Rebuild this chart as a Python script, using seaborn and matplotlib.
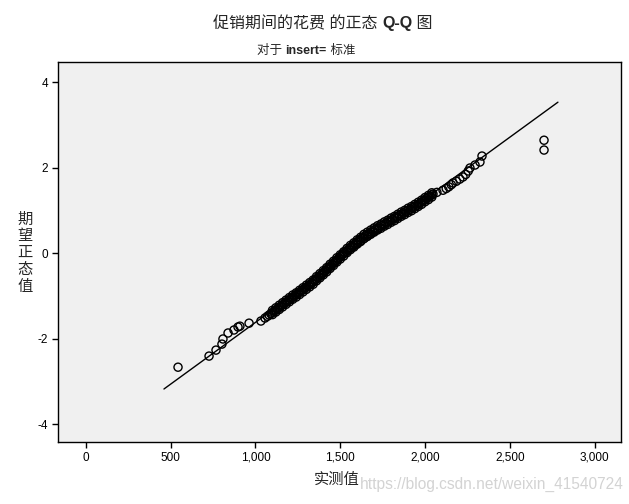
import numpy as np
import pandas as pd
import matplotlib
matplotlib.use("Agg")
import matplotlib.pyplot as plt
import seaborn as sns

observed = [
    543, 726, 767, 802, 808, 838, 873, 897, 908, 962, 1032,
    1056, 1070, 1080, 1090, 1100, 1111, 1121, 1131, 1141, 1150, 1160, 1170, 1180,
    1190, 1200, 1210, 1221, 1231, 1242, 1252, 1262,
    1272, 1282, 1292, 1303, 1313, 1323, 1333,
    1341, 1350, 1358, 1366, 1375, 1383, 1392, 1398,
    1406, 1414, 1422, 1430, 1438, 1446, 1454, 1462, 1470, 1478, 1486,
    1494, 1502, 1510, 1518, 1526, 1535, 1543, 1551, 1560,
    1569, 1578, 1588, 1597, 1606, 1615, 1625, 1634,
    1646, 1658, 1670, 1682, 1693, 1705, 1717,
    1730, 1743, 1757, 1770, 1783, 1796, 1809, 1822, 1835, 1848,
    1861, 1874, 1887, 1900, 1914, 1927, 1940, 1953,
    1964, 1975, 1986, 1997, 2007, 2018, 2029, 2040, 2047,
    2070, 2106, 2125, 2140, 2155, 2165, 2185, 2205, 2224, 2240, 2255, 2265,
    2295, 2324, 2336,
    2702, 2702,
]
expected = [
    -2.67, -2.41, -2.27, -2.13, -2.01, -1.87, -1.80, -1.73, -1.71, -1.64, -1.59,
    -1.52, -1.48, -1.45, -1.42, -1.39, -1.36, -1.33, -1.30, -1.27, -1.24, -1.21, -1.18, -1.15,
    -1.12, -1.09, -1.06, -1.03, -1.00, -0.97, -0.94, -0.91,
    -0.88, -0.85, -0.82, -0.79, -0.76, -0.73, -0.70,
    -0.67, -0.64, -0.61, -0.58, -0.55, -0.52, -0.49, -0.47,
    -0.44, -0.41, -0.38, -0.35, -0.32, -0.29, -0.26, -0.23, -0.20, -0.17, -0.14,
    -0.11, -0.08, -0.05, -0.02, 0.01, 0.04, 0.07, 0.10, 0.13,
    0.16, 0.19, 0.22, 0.25, 0.28, 0.31, 0.34, 0.37,
    0.40, 0.43, 0.46, 0.49, 0.52, 0.55, 0.58,
    0.61, 0.64, 0.67, 0.70, 0.73, 0.76, 0.79, 0.82, 0.85, 0.88,
    0.91, 0.94, 0.97, 1.00, 1.03, 1.06, 1.09, 1.12,
    1.15, 1.18, 1.21, 1.24, 1.27, 1.30, 1.33, 1.36, 1.38,
    1.42, 1.47, 1.51, 1.55, 1.60, 1.64, 1.68, 1.73, 1.78, 1.84, 1.92, 1.99,
    2.06, 2.13, 2.27,
    2.64, 2.41,
]
# extra cases in the dense black band (observed values, with their upper and lower expected values)
band_x = [
    1100, 1120, 1140, 1160, 1180, 1200, 1220, 1240, 1260, 1280, 1300, 1320,
    1340, 1360, 1380, 1400, 1420, 1440, 1460, 1480, 1500, 1520, 1540, 1560,
    1580, 1600, 1620, 1640, 1660, 1680, 1700, 1720, 1740, 1760, 1780, 1800,
    1820, 1840, 1860, 1880, 1900, 1920, 1940, 1960, 1980, 2000, 2020, 2040,
]
band_upper = [
    -1.34, -1.28, -1.22, -1.16, -1.10, -1.04, -0.98, -0.93, -0.87, -0.81, -0.75, -0.69,
    -0.63, -0.55, -0.48, -0.41, -0.34, -0.26, -0.19, -0.11, -0.04, 0.03, 0.11, 0.18,
    0.24, 0.31, 0.37, 0.44, 0.49, 0.54, 0.59, 0.64, 0.68, 0.73, 0.77, 0.82,
    0.86, 0.91, 0.96, 1.00, 1.05, 1.09, 1.14, 1.19, 1.24, 1.30, 1.35, 1.41,
]
band_lower = [
    -1.44, -1.38, -1.32, -1.26, -1.20, -1.14, -1.08, -1.03, -0.97, -0.91, -0.85, -0.79,
    -0.73, -0.65, -0.58, -0.51, -0.44, -0.36, -0.29, -0.21, -0.14, -0.07, 0.01, 0.08,
    0.14, 0.21, 0.27, 0.34, 0.39, 0.44, 0.49, 0.54, 0.58, 0.63, 0.67, 0.72,
    0.76, 0.81, 0.86, 0.90, 0.95, 0.99, 1.04, 1.09, 1.14, 1.20, 1.25, 1.31,
]
# reference line end points
line_x = [460, 2784]
line_y = [-3.18, 3.53]

x_ticks = [0, 500, 1000, 1500, 2000, 2500, 3000]
x_tick_labels = ["0", "500", "1,000", "1,500", "2,000", "2,500", "3,000"]
y_ticks = [-4, -2, 0, 2, 4]

df = pd.DataFrame({"observed": observed + band_x + band_x,
                   "expected": expected + band_upper + band_lower})
df_line = pd.DataFrame({"x": line_x, "y": line_y})

sns.set_style("ticks")
plt.rcParams["font.family"] = ["Liberation Sans", "Noto Sans CJK SC", "DejaVu Sans"]
plt.rcParams["axes.unicode_minus"] = False

fig = plt.figure(figsize=(6.29, 5.04), dpi=100)
ax = fig.add_axes([58 / 629, 1 - 442 / 504, (621 - 58) / 629, (442 - 62) / 504])
ax.set_facecolor("#f0f0f0")

sns.lineplot(data=df_line, x="x", y="y", color="black", linewidth=1.0, ax=ax, zorder=2)
sns.scatterplot(data=df, x="observed", y="expected", ax=ax, s=34, marker="o",
                facecolor="none", edgecolor="black", linewidth=1.0, zorder=3)

ax.set_xlim(-165, 3156)
ax.set_ylim(-4.42, 4.47)
ax.set_xticks(x_ticks)
ax.set_xticklabels(x_tick_labels)
ax.set_yticks(y_ticks)
ax.tick_params(direction="out", length=4, width=1, colors="black", labelsize=8.5, pad=3)
for sp in ax.spines.values():
    sp.set_visible(True)
    sp.set_color("black")
    sp.set_linewidth(1.0)
ax.set_xlabel("")
ax.set_ylabel("")


def chain(parts, x, y, size):
    prev = fig.text(x, y, parts[0][0], fontsize=size, fontweight=parts[0][1],
                    ha="left", va="bottom")
    for s, w in parts[1:]:
        prev = ax.annotate(s, xy=(1, 0), xycoords=prev, fontsize=size, fontweight=w,
                           ha="left", va="bottom", annotation_clip=False)


chain([("促销期间的花费 的正态 ", "normal"), ("Q-Q", "bold"), (" 图", "normal")],
      213 / 629, 1 - 31 / 504, 11.5)
chain([("对于 ", "normal"), ("insert=", "bold"), (" 标准", "normal")],
      257 / 629, 1 - 57 / 504, 9)

fig.text(25 / 629, 1 - 253 / 504, "期\n望\n正\n态\n值", fontsize=11, ha="center", va="center",
         linespacing=1.25)

fig.text(624 / 629, 1 - 484 / 504, "https://blog.csdn.net/weixin_41540724", fontsize=11.2,
         color="#d3d3d3", ha="right", va="center", zorder=1)
fig.text(337 / 629, 1 - 480 / 504, "实测值", fontsize=11, ha="center", va="center", zorder=5)

fig.savefig("out.png", dpi=100, facecolor="white")
